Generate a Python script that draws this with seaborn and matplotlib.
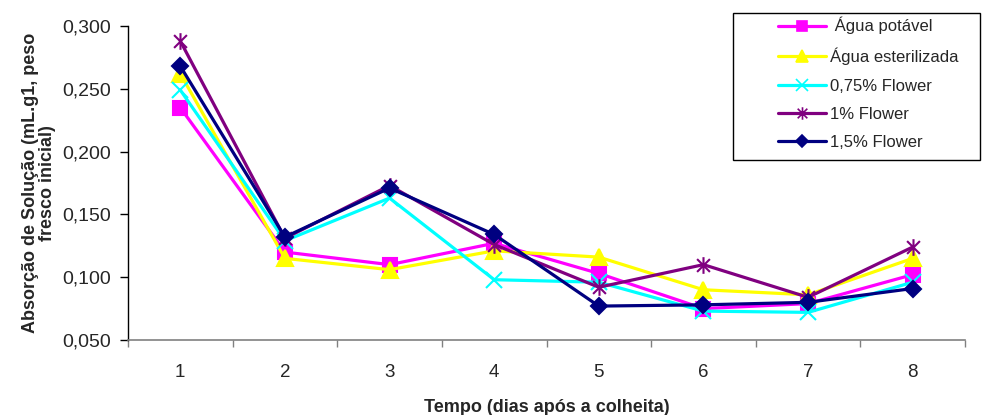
import matplotlib
matplotlib.use("Agg")
import matplotlib.pyplot as plt
from matplotlib.path import Path
from matplotlib.patches import Rectangle
from matplotlib.ticker import FixedLocator, FuncFormatter
import numpy as np
import pandas as pd
import seaborn as sns

# Dias após a colheita
dias = [1, 2, 3, 4, 5, 6, 7, 8]

# Absorção de solução por tratamento (mL.g-1 de peso fresco inicial)
agua_potavel = [0.235, 0.120, 0.110, 0.127, 0.103, 0.075, 0.079, 0.102]
agua_esterilizada = [0.262, 0.115, 0.106, 0.121, 0.116, 0.090, 0.086, 0.115]
flower_075 = [0.249, 0.129, 0.163, 0.098, 0.096, 0.073, 0.072, 0.096]
flower_1 = [0.288, 0.131, 0.173, 0.126, 0.092, 0.110, 0.084, 0.124]
flower_15 = [0.268, 0.132, 0.171, 0.134, 0.077, 0.078, 0.080, 0.091]

tratamentos = [" Água potável", "Água esterilizada", "0,75% Flower",
               "1% Flower", "1,5% Flower"]
series = [agua_potavel, agua_esterilizada, flower_075, flower_1, flower_15]
cores = ["#FF00FF", "#FFFF00", "#00FFFF", "#800080", "#000080"]

# asterisco: X com traço vertical
asterisco = Path(
    [(-1, -1), (1, 1), (-1, 1), (1, -1), (0, -1.3), (0, 1.3)],
    [Path.MOVETO, Path.LINETO, Path.MOVETO, Path.LINETO, Path.MOVETO, Path.LINETO],
)
marcadores = ["s", "^", "x", asterisco, "D"]
tamanhos = [10, 11, 12, 12, 8.5]

df = pd.DataFrame({
    "dia": np.tile(dias, len(tratamentos)),
    "valor": np.concatenate(series),
    "tratamento": np.repeat(tratamentos, len(dias)),
})

sns.set_style("white")
plt.rcParams["font.family"] = ["Liberation Sans", "DejaVu Sans"]

W, H = 984, 415
fig = plt.figure(figsize=(W / 100, H / 100), dpi=100)
ax = fig.add_axes([128 / W, 1 - 340 / H, (965 - 128) / W, (340 - 26) / H])

for nome, cor, mk, ms in zip(tratamentos, cores, marcadores, tamanhos):
    sns.lineplot(
        data=df[df["tratamento"] == nome], x="dia", y="valor",
        color=cor, marker=mk, markersize=ms, markeredgecolor=cor,
        markerfacecolor=cor, markeredgewidth=1.5, linewidth=2.3,
        ax=ax, legend=False,
    )

ax.set_xlim(0.5, 8.5)
ax.set_ylim(0.05, 0.30)

# eixo X: marcas entre categorias, rótulos no centro
ax.xaxis.set_major_locator(FixedLocator(np.arange(0.5, 9.0, 1.0)))
ax.xaxis.set_major_formatter(FuncFormatter(lambda v, p: ""))
ax.xaxis.set_minor_locator(FixedLocator(dias))
ax.xaxis.set_minor_formatter(FuncFormatter(lambda v, p: f"{int(round(v))}"))
ax.tick_params(axis="x", which="major", direction="out", length=5, width=1,
               color="#808080", bottom=True)
ax.tick_params(axis="x", which="minor", length=0, pad=17, labelsize=13.5, bottom=True)

ax.yaxis.set_major_locator(FixedLocator(np.arange(0.05, 0.301, 0.05)))
ax.yaxis.set_major_formatter(FuncFormatter(lambda v, p: f"{v:.3f}".replace(".", ",")))
ax.tick_params(axis="y", direction="out", length=6, width=1, color="black",
               pad=6, labelsize=14, left=True)

for s in ["top", "right"]:
    ax.spines[s].set_visible(False)
ax.spines["left"].set_color("black")
ax.spines["left"].set_linewidth(1)
ax.spines["bottom"].set_color("#808080")
ax.spines["bottom"].set_linewidth(1.2)
ax.grid(False)

ax.set_xlabel("Tempo (dias após a colheita)", fontsize=13, fontweight="bold", labelpad=13)
ax.set_ylabel("Absorção de Solução (mL.g1, peso\nfresco inicial)", fontsize=13,
              fontweight="bold", labelpad=5, linespacing=0.95)

# legenda com moldura retangular simples
handles = [
    plt.Line2D([], [], color=c, marker=m, markersize=ms * 0.75, mec=c, mfc=c,
               mew=1.2, linewidth=2.3)
    for c, m, ms in zip(cores, marcadores, tamanhos)
]
leg = fig.legend(
    handles, tratamentos, loc="upper left",
    bbox_to_anchor=(778 / W, 1 - 17 / H), fontsize=12,
    frameon=False, handlelength=2.9, handletextpad=0.2, labelspacing=0.8,
    borderpad=0, borderaxespad=0,
)
fig.patches.append(Rectangle((733 / W, 1 - 160 / H), 247 / W, 147 / H,
                             transform=fig.transFigure, fill=False,
                             edgecolor="black", linewidth=1.0))

fig.savefig("out.png", dpi=100)
